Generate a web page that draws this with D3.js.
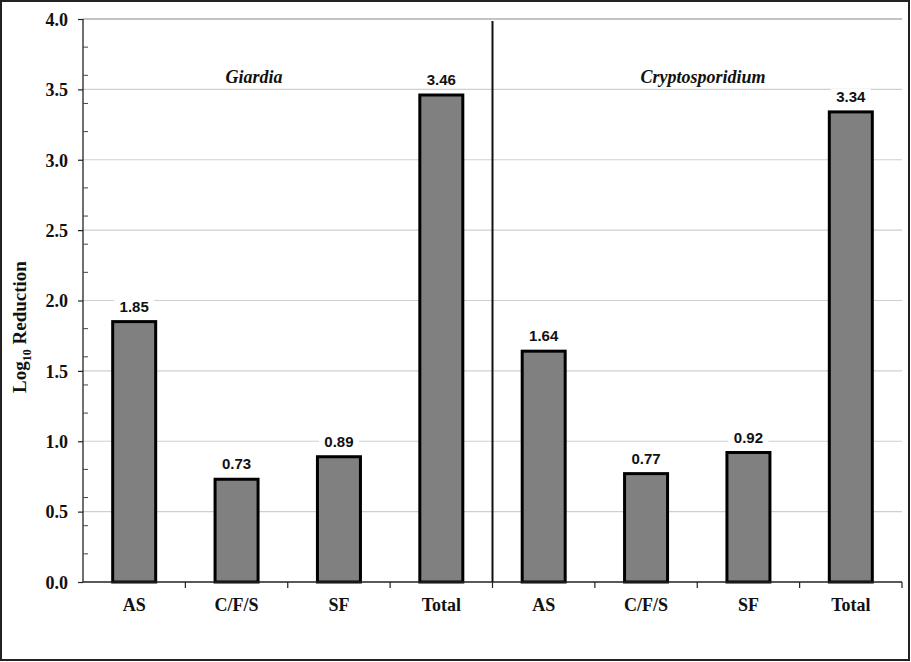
<!DOCTYPE html>
<html lang="en">
<head>
  <meta charset="utf-8"/>
  <script src="https://d3js.org/d3.v7.min.js"></script>
  <style>
    body { margin: 0; background: #fff; }
    .tick-label { font-family: "Liberation Serif", "Times New Roman", serif; font-weight: bold; font-size: 18px; fill: #111; }
    .value-label { font-family: "Liberation Sans", Arial, sans-serif; font-weight: bold; font-size: 15px; fill: #111; }
    .group-title { font-family: "Liberation Serif", "Times New Roman", serif; font-weight: bold; font-style: italic; font-size: 18px; fill: #111; }
  </style>
</head>
<body>
<div id="chart"></div>
<script>
  // Chart data
  const groups = ["Giardia", "Cryptosporidium"];
  const steps = ["AS", "C/F/S", "SF", "Total"];
  const giardiaValues = [1.85, 0.73, 0.89, 3.46];
  const cryptoValues = [1.64, 0.77, 0.92, 3.34];
  const yTicks = [0, 0.5, 1.0, 1.5, 2.0, 2.5, 3.0, 3.5, 4.0];

  const width = 911, height = 662;
  const margin = {top: 19, right: 9, bottom: 80, left: 83};
  const innerW = width - margin.left - margin.right;
  const innerH = height - margin.top - margin.bottom;

  // flatten into one row per bar
  const bars = [];
  groups.forEach((g, gi) => {
    const vals = gi === 0 ? giardiaValues : cryptoValues;
    steps.forEach((s, si) => bars.push({key: g + "-" + s, group: g, step: s, value: vals[si]}));
  });

  const svg = d3.select("#chart").append("svg")
    .attr("width", width)
    .attr("height", height);

  // outer frame
  svg.append("rect")
    .attr("x", 1).attr("y", 1)
    .attr("width", width - 3).attr("height", height - 3)
    .attr("fill", "#fff")
    .attr("stroke", "#222")
    .attr("stroke-width", 2);

  const g = svg.append("g").attr("transform", `translate(${margin.left},${margin.top})`);

  const x = d3.scaleBand()
    .domain(bars.map(d => d.key))
    .range([0, innerW])
    .paddingInner(0.58)
    .paddingOuter(0.29);

  const band = d3.scaleBand().domain(bars.map(d => d.key)).range([0, innerW]);

  const y = d3.scaleLinear().domain([0, 4]).range([innerH, 0]);

  // gridlines
  g.append("g")
    .selectAll("line")
    .data(yTicks.filter(t => t > 0))
    .enter().append("line")
    .attr("x1", 0).attr("x2", innerW)
    .attr("y1", d => y(d)).attr("y2", d => y(d))
    .attr("stroke", d => d === 4 ? "#888" : "#cfcfcf")
    .attr("stroke-width", 1.2);

  // group divider
  const divX = band(bars[4].key);
  g.append("line")
    .attr("x1", divX).attr("x2", divX)
    .attr("y1", 2).attr("y2", innerH)
    .attr("stroke", "#111")
    .attr("stroke-width", 2);

  // bars
  g.append("g")
    .selectAll("rect")
    .data(bars)
    .enter().append("rect")
    .attr("x", d => x(d.key))
    .attr("y", d => y(d.value))
    .attr("width", x.bandwidth())
    .attr("height", d => innerH - y(d.value))
    .attr("fill", "#808080")
    .attr("stroke", "#000")
    .attr("stroke-width", 3);

  // value labels with white backing
  const labels = g.append("g")
    .selectAll("g")
    .data(bars)
    .enter().append("g")
    .attr("transform", d => `translate(${x(d.key) + x.bandwidth() / 2},${y(d.value) - 10})`);
  labels.append("rect")
    .attr("x", -20).attr("y", -13)
    .attr("width", 40).attr("height", 15)
    .attr("fill", "#fff");
  labels.append("text")
    .attr("class", "value-label")
    .attr("text-anchor", "middle")
    .text(d => d.value.toFixed(2));

  // y axis
  const yAxis = g.append("g")
    .call(d3.axisLeft(y).tickValues(yTicks).tickFormat(d3.format(".1f")).tickSize(5).tickPadding(10));
  yAxis.select(".domain").attr("stroke", "#222").attr("stroke-width", 1.3).attr("d", `M0,${innerH}V0`);
  yAxis.selectAll(".tick line").attr("stroke", "#222").attr("stroke-width", 1.2);
  yAxis.selectAll(".tick text").attr("class", "tick-label").attr("dy", "0.35em");

  // minor ticks inside axis
  g.append("g")
    .selectAll("line")
    .data(d3.range(0.2, 4, 0.2).filter(v => Math.abs(v * 2 - Math.round(v * 2)) > 0.01))
    .enter().append("line")
    .attr("x1", 0).attr("x2", 5)
    .attr("y1", d => y(d)).attr("y2", d => y(d))
    .attr("stroke", "#444")
    .attr("stroke-width", 1);

  // x axis
  const xAxis = g.append("g").attr("transform", `translate(0,${innerH})`);
  xAxis.append("line")
    .attr("x1", 0).attr("x2", innerW)
    .attr("stroke", "#222").attr("stroke-width", 1.3);
  xAxis.selectAll("line.tk")
    .data(bars.map(d => band(d.key)).concat([innerW]).slice(1))
    .enter().append("line")
    .attr("class", "tk")
    .attr("x1", d => d).attr("x2", d => d)
    .attr("y1", 0).attr("y2", 6)
    .attr("stroke", "#222").attr("stroke-width", 1.2);
  xAxis.selectAll("text")
    .data(bars)
    .enter().append("text")
    .attr("class", "tick-label")
    .attr("x", d => band(d.key) + band.bandwidth() / 2)
    .attr("y", 29)
    .attr("text-anchor", "middle")
    .text(d => d.step);

  // group titles
  g.append("text").attr("class", "group-title")
    .attr("x", 254 - margin.left).attr("y", 83 - margin.top)
    .attr("text-anchor", "middle").text(groups[0]);
  g.append("text").attr("class", "group-title")
    .attr("x", 703 - margin.left).attr("y", 83 - margin.top)
    .attr("text-anchor", "middle").text(groups[1]);

  // y axis title
  const yt = svg.append("text")
    .attr("transform", "translate(26,327) rotate(-90)")
    .attr("text-anchor", "middle")
    .attr("font-family", "Liberation Serif, Times New Roman, serif")
    .attr("font-weight", "bold")
    .attr("font-size", 19)
    .attr("fill", "#111");
  yt.append("tspan").text("Log");
  yt.append("tspan").attr("font-size", 12).attr("dy", 5).text("10");
  yt.append("tspan").attr("dy", -5).text(" Reduction");
</script>
</body>
</html>
